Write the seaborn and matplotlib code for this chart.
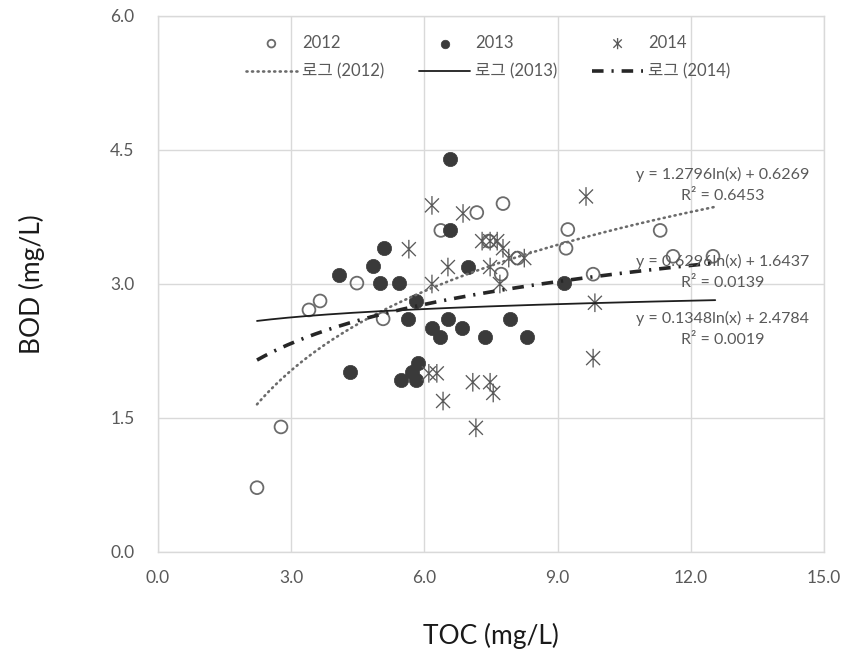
import numpy as np
import pandas as pd
import matplotlib
matplotlib.use("Agg")
import matplotlib.pyplot as plt
from matplotlib.path import Path
import seaborn as sns

# ---------------- data ----------------
toc_2012 = [2.23, 2.77, 3.40, 3.65, 4.48, 5.07, 6.37, 7.18, 7.77, 7.45, 8.10, 7.73,
            9.23, 9.19, 9.80, 11.31, 11.60, 12.50]
bod_2012 = [0.72, 1.40, 2.71, 2.81, 3.01, 2.61, 3.60, 3.80, 3.90, 3.48, 3.29, 3.11,
            3.61, 3.40, 3.11, 3.60, 3.31, 3.31]

toc_2013 = [6.58, 6.58, 6.98, 5.09, 4.84, 4.08, 5.00, 5.43, 5.81, 5.63, 6.53, 6.17,
            6.35, 6.85, 7.36, 7.93, 8.31, 9.14, 4.32, 5.86, 5.72, 5.47, 5.81]
bod_2013 = [4.40, 3.60, 3.19, 3.40, 3.20, 3.10, 3.01, 3.01, 2.81, 2.61, 2.61, 2.51,
            2.41, 2.51, 2.41, 2.61, 2.41, 3.01, 2.01, 2.12, 2.02, 1.92, 1.92]

toc_2014 = [6.17, 6.87, 5.65, 6.17, 6.53, 7.48, 7.70, 7.30, 7.48, 7.64, 7.77, 7.90,
            8.25, 9.64, 9.84, 9.80, 6.10, 6.28, 6.42, 7.09, 7.48, 7.55, 7.16]
bod_2014 = [3.88, 3.79, 3.39, 3.00, 3.19, 3.19, 3.00, 3.48, 3.48, 3.48, 3.40, 3.29,
            3.29, 3.98, 2.79, 2.17, 2.00, 2.00, 1.69, 1.90, 1.90, 1.78, 1.39]

years = ["2012", "2013", "2014"]
log_a = [1.2796, 0.1348, 0.6296]     # slope of ln(x)
log_b = [0.6269, 2.4784, 1.6437]     # intercept
r2 = [0.6453, 0.0019, 0.0139]
trend_x_range = [2.23, 12.55]

x_ticks = [0.0, 3.0, 6.0, 9.0, 12.0, 15.0]
y_ticks = [0.0, 1.5, 3.0, 4.5, 6.0]

# ---------------- style ----------------
sns.set_style("white")
plt.rcParams["font.family"] = ["Lato", "Noto Sans CJK KR", "DejaVu Sans"]
plt.rcParams["axes.unicode_minus"] = False

fig = plt.figure(figsize=(8.43, 6.63), dpi=100)
ax = fig.add_axes([158 / 843, 1 - 552 / 663, 666 / 843, 536 / 663])

grey_txt = "#595959"
grid_c = "#d9d9d9"

# asterisk marker: vertical bar + X
ast = Path(
    [(0, -1), (0, 1), (-0.75, -0.75), (0.75, 0.75), (-0.75, 0.75), (0.75, -0.75)],
    [Path.MOVETO, Path.LINETO, Path.MOVETO, Path.LINETO, Path.MOVETO, Path.LINETO],
)

df12 = pd.DataFrame({"TOC": toc_2012, "BOD": bod_2012})
df13 = pd.DataFrame({"TOC": toc_2013, "BOD": bod_2013})
df14 = pd.DataFrame({"TOC": toc_2014, "BOD": bod_2014})

sns.scatterplot(data=df12, x="TOC", y="BOD", ax=ax, marker="o", s=85,
                color="#6b6b6b", facecolor="none", edgecolor="#6b6b6b",
                linewidth=1.3, label="2012", zorder=3)
sns.scatterplot(data=df13, x="TOC", y="BOD", ax=ax, marker="o", s=105,
                color="#3a3a3a", edgecolor="#3a3a3a", linewidth=0.5,
                label="2013", zorder=3)
sns.scatterplot(data=df14, x="TOC", y="BOD", ax=ax, marker=ast, s=180,
                color="#5a5a5a", facecolor="none", edgecolor="#5a5a5a",
                linewidth=0.95, label="2014", zorder=3)

# log trend lines from the equations
xs = np.linspace(trend_x_range[0], trend_x_range[1], 300)
styles = [
    dict(color="#6b6b6b", lw=1.9, linestyle=(0, (0.4, 1.7)), dash_capstyle="round"),
    dict(color="#1e1e1e", lw=1.3, linestyle="-"),
    dict(color="#262626", lw=2.6, linestyle=(0, (3.2, 2.2, 0.6, 2.2))),
]
for yr, a, b, st in zip(years, log_a, log_b, styles):
    tdf = pd.DataFrame({"TOC": xs, "BOD": a * np.log(xs) + b})
    sns.lineplot(data=tdf, x="TOC", y="BOD", ax=ax, label=f"로그 ({yr})",
                 zorder=4, **st)

# equations
eq_pos = [(12.72, 4.23, 3.98), (12.72, 2.61, 2.37), (12.72, 3.25, 3.01)]
for (ex, ey1, ey2), a, b, r in zip(eq_pos, log_a, log_b, r2):
    ax.text(ex, ey1, f"y = {a:.4f}ln(x) + {b:.4f}", ha="center", va="center",
            fontsize=11.5, color=grey_txt, zorder=5)
    ax.text(ex, ey2, f"R² = {r:.4f}", ha="center", va="center",
            fontsize=11.5, color=grey_txt, zorder=5)

# axes
ax.set_xlim(0, 15)
ax.set_ylim(0, 6)
ax.set_xticks(x_ticks)
ax.set_yticks(y_ticks)
ax.set_xticklabels([f"{v:.1f}" for v in x_ticks])
ax.set_yticklabels([f"{v:.1f}" for v in y_ticks])
ax.tick_params(axis="both", length=0, labelsize=12.5, labelcolor=grey_txt)
ax.tick_params(axis="x", pad=13)
ax.tick_params(axis="y", pad=17)
ax.grid(True, color=grid_c, lw=1)
ax.set_axisbelow(True)
for sp in ax.spines.values():
    sp.set_color(grid_c)
    sp.set_linewidth(1)

ax.set_xlabel("TOC (mg/L)", fontsize=19, color="#1a1a1a")
ax.set_ylabel("BOD (mg/L)", fontsize=19, color="#1a1a1a")
ax.xaxis.set_label_coords(0.5, -(636 - 552) / 536)
ax.xaxis.label.set_va("center")
ax.yaxis.set_label_coords(-(158 - 32) / 666, 0.5)
ax.yaxis.label.set_va("center")

# legend: 2 rows x 3 columns
h, l = ax.get_legend_handles_labels()
order = ["2012", "로그 (2012)", "2013", "로그 (2013)", "2014", "로그 (2014)"]
hd = dict(zip(l, h))
leg = ax.legend([hd[k] for k in order], order, ncol=3, loc="upper left",
                bbox_to_anchor=((246 - 158) / 666, 1 - (35 - 16) / 536),
                frameon=False, fontsize=12, handlelength=3.05, handletextpad=0.3,
                columnspacing=2.1, markerscale=0.6, labelspacing=0.75,
                borderpad=0, borderaxespad=0)
for t in leg.get_texts():
    t.set_color(grey_txt)

fig.savefig("out.png", dpi=100)
